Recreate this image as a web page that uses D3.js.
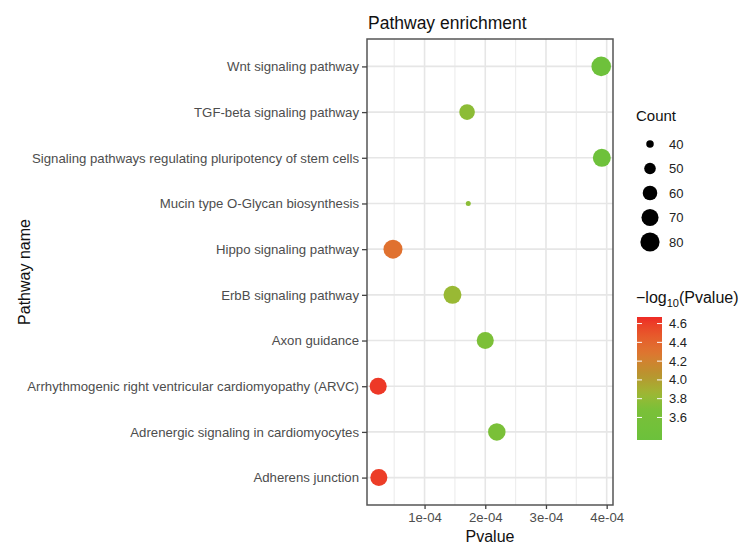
<!DOCTYPE html>
<html>
<head>
<meta charset="utf-8">
<script src="https://cdn.jsdelivr.net/npm/d3@7"></script>
<style>
  body { margin: 0; background: #fff; }
  text { font-family: "Liberation Sans", Arial, sans-serif; }
</style>
</head>
<body>
<svg id="chart" width="742" height="544"></svg>
<script>
// pathways, top row first
const pathways = [
    "Wnt signaling pathway",
    "TGF-beta signaling pathway",
    "Signaling pathways regulating pluripotency of stem cells",
    "Mucin type O-Glycan biosynthesis",
    "Hippo signaling pathway",
    "ErbB signaling pathway",
    "Axon guidance",
    "Arrhythmogenic right ventricular cardiomyopathy (ARVC)",
    "Adrenergic signaling in cardiomyocytes",
    "Adherens junction"
];
const pvalues = [3.91e-4, 1.70e-4, 3.92e-4, 1.72e-4, 0.48e-4, 1.46e-4, 2.00e-4, 0.236e-4, 2.19e-4, 0.247e-4];
const counts = [82, 64, 74, 36, 79, 74, 70, 70, 72, 70];

const xTicks = [1e-4, 2e-4, 3e-4, 4e-4];
const sizeLegend = [40, 50, 60, 70, 80];
const colorTicks = [3.6, 3.8, 4.0, 4.2, 4.4, 4.6];
const colorRange = [3.36, 4.67];
// colour stops
const colorStops = [3.36, 3.7, 3.85, 4.05, 4.3, 4.67];
const colorValues = ["#6cc13c", "#7cc038", "#9cb834", "#b8942f", "#df7430", "#ee2a26"];

const data = pathways.map((p, i) => ({
    name: p,
    p: pvalues[i],
    count: counts[i],
    logp: -Math.log10(pvalues[i])
}));

const svg = d3.select("#chart");
const panel = {left: 367, right: 613, top: 39, bottom: 505};

// x: data range with 5% padding like ggplot
const ext = d3.extent(pvalues);
const pad = (ext[1] - ext[0]) * 0.05;
const x = d3.scaleLinear()
    .domain([ext[0] - pad, ext[1] + pad])
    .range([panel.left, panel.right]);

const y = d3.scalePoint()
    .domain(pathways)
    .range([panel.top, panel.bottom])
    .padding(0.6);

const r = d3.scaleRadial()
    .domain([36, 84])
    .range([2.5, 10]);

const color = d3.scaleLinear()
    .domain(colorStops)
    .range(colorValues)
    .interpolate(d3.interpolateLab)
    .clamp(true);

// panel grid
const g = svg.append("g");
const minor = [0.5e-4, 1.5e-4, 2.5e-4, 3.5e-4];
g.selectAll(".minor")
    .data(minor)
    .enter()
    .append("line")
    .attr("x1", d => x(d)).attr("x2", d => x(d))
    .attr("y1", panel.top).attr("y2", panel.bottom)
    .attr("stroke", "#eeeeee").attr("stroke-width", 1.2);
g.selectAll(".vmajor")
    .data(xTicks)
    .enter()
    .append("line")
    .attr("x1", d => x(d)).attr("x2", d => x(d))
    .attr("y1", panel.top).attr("y2", panel.bottom)
    .attr("stroke", "#e6e6e6").attr("stroke-width", 1.6);
g.selectAll(".hmajor")
    .data(pathways)
    .enter()
    .append("line")
    .attr("x1", panel.left).attr("x2", panel.right)
    .attr("y1", d => y(d)).attr("y2", d => y(d))
    .attr("stroke", "#e6e6e6").attr("stroke-width", 1.6);

// points
svg.append("g")
    .selectAll("circle")
    .data(data)
    .enter()
    .append("circle")
    .attr("cx", d => x(d.p))
    .attr("cy", d => y(d.name))
    .attr("r", d => r(d.count))
    .attr("fill", d => color(d.logp));

// panel border
svg.append("rect")
    .attr("x", panel.left).attr("y", panel.top)
    .attr("width", panel.right - panel.left)
    .attr("height", panel.bottom - panel.top)
    .attr("fill", "none")
    .attr("stroke", "#555").attr("stroke-width", 1.5);

// axes
const fmt = d => d.toExponential(0).replace(/e([+-])(\d)$/, "e$10$2");
const xAxis = svg.append("g")
    .attr("transform", `translate(0,${panel.bottom})`)
    .call(d3.axisBottom(x).tickValues(xTicks).tickFormat(fmt).tickSize(4).tickSizeOuter(0));
const yAxis = svg.append("g")
    .attr("transform", `translate(${panel.left},0)`)
    .call(d3.axisLeft(y).tickSize(5).tickSizeOuter(0));
[xAxis, yAxis].forEach(a => {
    a.select(".domain").remove();
    a.selectAll(".tick line").attr("stroke", "#444").attr("stroke-width", 1.3);
    a.selectAll(".tick text")
        .attr("fill", "#4d4d4d")
        .style("font-size", "13.2px")
        .style("font-family", "Liberation Sans, Arial, sans-serif");
});
xAxis.selectAll(".tick text").attr("y", 6).attr("dy", "0.8em");
yAxis.selectAll(".tick text").attr("x", -8);

// titles
svg.append("text")
    .attr("x", 368).attr("y", 29)
    .style("font-size", "17.5px").attr("fill", "#111")
    .text("Pathway enrichment");
svg.append("text")
    .attr("x", 490).attr("y", 542)
    .attr("text-anchor", "middle")
    .style("font-size", "16px").attr("fill", "#111")
    .text("Pvalue");
svg.append("text")
    .attr("transform", `translate(30,${(panel.top + panel.bottom) / 2}) rotate(-90)`)
    .attr("text-anchor", "middle")
    .style("font-size", "16px").attr("fill", "#111")
    .text("Pathway name");

// size legend
const sl = svg.append("g");
sl.append("text")
    .attr("x", 636).attr("y", 121)
    .style("font-size", "15px").attr("fill", "#111")
    .text("Count");
const sy = d3.scalePoint().domain(sizeLegend).range([144, 242]);
sl.selectAll("circle")
    .data(sizeLegend)
    .enter()
    .append("circle")
    .attr("cx", 650)
    .attr("cy", d => sy(d))
    .attr("r", d => r(d))
    .attr("fill", "#000");
sl.selectAll(".lab")
    .data(sizeLegend)
    .enter()
    .append("text")
    .attr("x", 669)
    .attr("y", d => sy(d))
    .attr("dy", "0.35em")
    .style("font-size", "13px").attr("fill", "#222")
    .text(d => d);

// colour legend
const cl = svg.append("g");
const ct = cl.append("text")
    .attr("x", 636).attr("y", 303)
    .style("font-size", "16px").attr("fill", "#111");
ct.append("tspan").text("\u2212log");
ct.append("tspan").attr("dy", 4).style("font-size", "11px").text("10");
ct.append("tspan").attr("dy", -4).text("(Pvalue)");

const barX = 637, barW = 25, barTop = 317, barBottom = 440;
const cy = d3.scaleLinear().domain(colorRange).range([barBottom, barTop]);
const defs = svg.append("defs");
const grad = defs.append("linearGradient")
    .attr("id", "cbar")
    .attr("x1", 0).attr("y1", 1).attr("x2", 0).attr("y2", 0);
d3.range(0, 1.0001, 0.05).forEach(t => {
    grad.append("stop")
        .attr("offset", t)
        .attr("stop-color", color(colorRange[0] + t * (colorRange[1] - colorRange[0])));
});
cl.append("rect")
    .attr("x", barX).attr("y", barTop)
    .attr("width", barW).attr("height", barBottom - barTop)
    .attr("fill", "url(#cbar)");
cl.selectAll(".tl")
    .data(colorTicks)
    .enter()
    .append("line")
    .attr("x1", barX).attr("x2", barX + 5)
    .attr("y1", d => cy(d)).attr("y2", d => cy(d))
    .attr("stroke", "#fff").attr("stroke-width", 1);
cl.selectAll(".tr")
    .data(colorTicks)
    .enter()
    .append("line")
    .attr("x1", barX + barW - 5).attr("x2", barX + barW)
    .attr("y1", d => cy(d)).attr("y2", d => cy(d))
    .attr("stroke", "#fff").attr("stroke-width", 1);
cl.selectAll(".cl")
    .data(colorTicks)
    .enter()
    .append("text")
    .attr("x", 669)
    .attr("y", d => cy(d))
    .attr("dy", "0.35em")
    .style("font-size", "13px").attr("fill", "#222")
    .text(d => d.toFixed(1));
</script>
</body>
</html>
